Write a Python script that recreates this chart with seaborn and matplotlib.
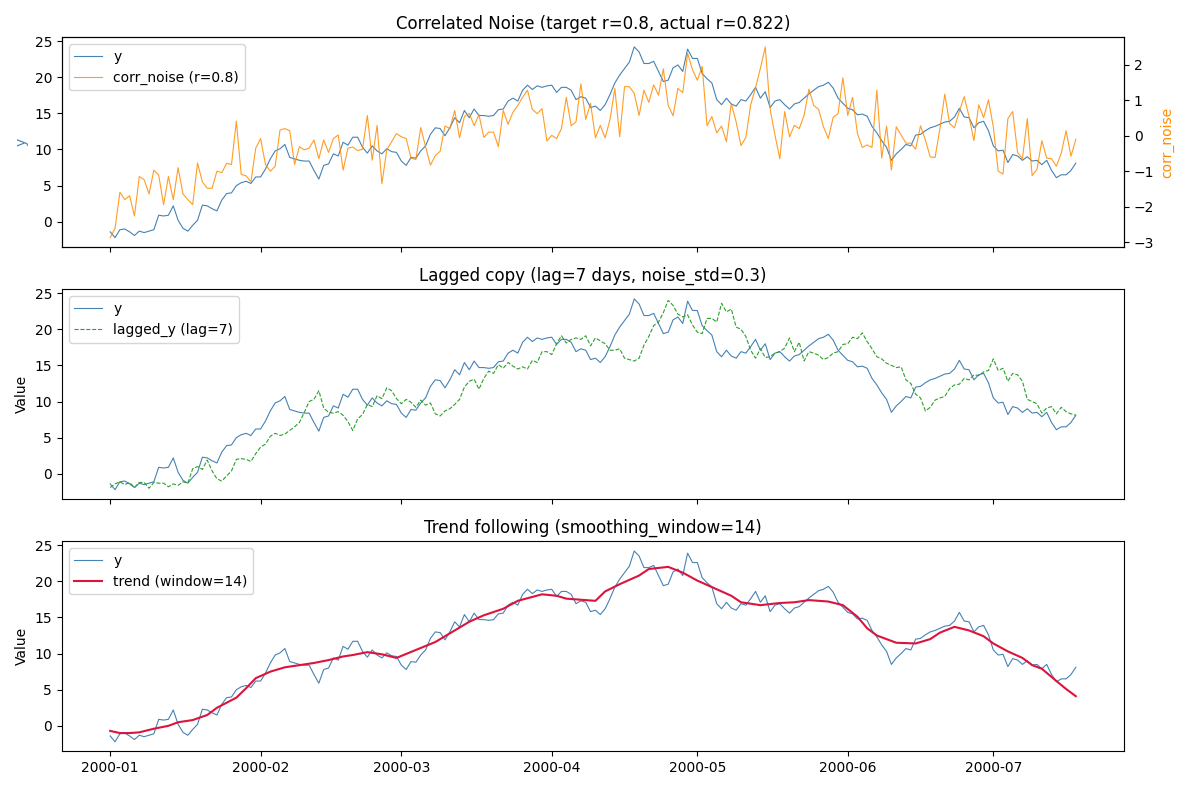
import matplotlib
matplotlib.use("Agg")
import matplotlib.pyplot as plt
import matplotlib.dates as mdates
import pandas as pd
import seaborn as sns

# valori (giornalieri, dal 2000-01-01)
y_values = [
    -1.4, -2.2, -1.1, -1.0, -1.4, -1.9, -1.3, -1.5, -1.3, -1.1,
    0.9, 0.8, 0.9, 2.2, 0.2, -0.9, -1.3, -0.5, 0.2, 2.3,
    2.2, 1.8, 1.5, 3.0, 3.9, 4.0, 5.0, 5.4, 5.6, 5.3,
    6.2, 6.2, 7.3, 8.7, 9.8, 10.1, 10.7, 8.9, 8.7, 8.5,
    8.4, 8.4, 7.1, 5.9, 7.8, 8.0, 9.4, 9.1, 11.0, 10.6,
    11.7, 11.7, 10.3, 9.5, 10.5, 9.8, 9.4, 10.1, 9.7, 9.6,
    8.4, 7.8, 8.9, 8.8, 9.8, 10.5, 12.1, 13.0, 12.9, 11.9,
    13.0, 14.4, 13.7, 15.4, 14.4, 15.6, 14.7, 14.7, 14.6, 14.7,
    15.5, 15.6, 16.7, 17.1, 16.7, 18.2, 18.9, 18.3, 18.8, 18.6,
    18.8, 18.9, 17.9, 18.6, 18.6, 18.2, 16.9, 17.3, 17.1, 15.8,
    16.0, 15.4, 16.2, 17.6, 19.2, 20.3, 21.2, 22.1, 24.2, 23.5,
    21.9, 21.9, 22.2, 20.8, 19.4, 19.6, 21.3, 21.7, 20.8, 23.9,
    22.6, 22.6, 20.5, 19.8, 19.2, 16.9, 16.2, 17.1, 16.3, 16.0,
    16.9, 16.7, 17.6, 18.6, 17.1, 18.0, 15.8, 16.7, 16.9, 16.2,
    15.6, 16.3, 16.5, 17.1, 17.7, 18.2, 18.7, 18.9, 19.3, 18.5,
    17.1, 16.4, 15.7, 15.5, 14.8, 14.9, 14.6, 13.2, 12.3, 11.2,
    10.3, 8.5, 9.4, 10.0, 10.7, 10.5, 12.0, 12.1, 12.6, 13.0,
    13.2, 13.5, 13.8, 13.9, 14.5, 15.7, 14.5, 14.4, 13.0, 13.7,
    13.9, 12.6, 10.5, 9.8, 9.9, 8.2, 9.3, 9.1, 8.5, 9.0,
    8.4, 8.5, 7.9, 8.5, 7.1, 6.1, 6.5, 6.5, 7.1, 8.1,
]

corr_noise_values = [
    -2.87, -2.61, -1.59, -1.80, -1.69, -2.26, -1.15, -1.24, -1.64, -0.97,
    -1.11, -1.94, -1.15, -1.80, -0.90, -1.64, -1.80, -1.94, -0.77, -1.30,
    -1.48, -1.48, -1.00, -1.04, -0.78, -0.81, 0.41, -1.09, -1.13, -1.30,
    -0.35, -0.08, -0.81, -1.00, -0.86, 0.16, 0.20, 0.14, -0.81, -0.31,
    -0.40, -0.35, -0.12, -0.65, -0.12, -0.47, -0.08, 0.02,
    -0.97, -0.35, -0.32, -0.42, -0.38, 0.57, -0.69, 0.29, -1.35, -0.40,
    -0.17, 0.06, -0.03, -0.08, -0.63, -0.67, 0.23, -0.31, -0.83, -0.56,
    -0.44, 0.27, 0.20, 0.71, -0.06, 0.54, 0.63, 0.28, 0.59, -0.05,
    0.10, 0.10, -0.31, 0.71, 0.32, 0.66, 0.85, 1.08, 1.28, 0.74,
    0.62, 0.76, -0.15, 0.01, -0.08, 0.20, 1.08, 0.28, 0.39, 1.46,
    0.46,
    0.91, -0.06, 0.29, -0.06, 0.45, 1.33, -0.03, 1.38, 1.38, 1.19,
    0.57, 1.28, 0.94, 1.43, 1.14, 1.88, 0.85, 0.56, 1.33, 1.21,
    2.32, 1.86, 1.56, 1.95, 0.28, 0.54, 0.08, 0.27, -0.17, 0.91,
    0.39, -0.28, -0.05, 0.87, 1.35, 1.90, 2.50, 0.75, 0.02, -0.65,
    0.68, -0.03, 0.29, 0.20, 0.57, 1.31, 0.85, 0.74, 0.25,
    -0.08, 0.52, 0.62, 1.63, 0.57, 1.08, 0.06, -0.33, -0.26, -0.33,
    1.28, -0.63, 0.27, -0.97, 0.25, 0.02, -0.21, -0.21, -0.38, 0.28,
    -0.12, -0.60, -0.61, 0.20, 1.17, 0.34, 0.22, 0.69, 1.10, 0.54,
    -0.14, 0.87, 0.51, 1.01, 0.25, -1.00, -1.08, 0.48, 0.68, -0.47,
    -0.65, 0.48, -1.12, -0.95, -0.14, -0.63, -0.65, -0.86, -0.49, 0.14,
    -0.58, -0.10,
]

lagged_values = [
    -1.9, -1.4, -1.1, -1.5, -1.2, -1.9, -1.2,
    -1.2, -2.0, -1.2, -1.3, -1.3, -1.8, -1.4, -1.6, -1.1, -1.3,
    0.7, 1.0, 0.6, 1.9, 0.4, -0.7, -1.0, -0.3, 0.4, 2.0,
    2.1, 2.0, 1.7, 2.8, 3.7, 4.1, 5.2, 5.6, 5.3, 5.5,
    6.0, 6.5, 7.1, 8.5, 10.0, 10.3, 11.5, 9.1, 8.5, 8.4,
    8.6, 8.1, 7.2, 6.0, 7.6, 8.2, 9.6, 9.3, 10.8, 10.4,
    11.9, 11.5, 10.4, 9.7, 10.3, 9.9, 9.2, 10.2, 9.5, 9.8,
    8.3, 8.0, 8.7, 9.0, 9.6, 10.3, 12.0, 12.8, 13.1, 11.7,
    13.2, 14.2, 13.9, 15.1, 14.6, 15.4, 14.9, 14.5, 14.8, 14.5,
    15.7, 15.4, 16.9, 16.9, 16.5, 18.0, 19.1, 18.1, 18.6, 18.8,
    18.6, 19.1, 17.7, 18.8, 18.4, 18.0, 17.1, 17.1, 17.3, 16.0,
    15.8, 15.6, 16.0, 17.8, 19.0, 20.5, 21.0, 22.3, 24.0, 23.3,
    22.1, 21.7, 22.0, 20.6, 19.6, 19.4, 21.5, 21.5, 21.0, 23.6,
    22.4, 22.8, 20.3, 20.0, 19.0, 17.1, 16.0, 17.3, 16.1, 16.2,
    16.7, 16.9, 17.4, 18.8, 16.9, 18.2, 15.6, 16.9, 16.7, 16.4,
    15.8, 16.1, 16.7, 16.9, 17.9, 18.0, 18.9, 18.7, 19.5, 18.3,
    17.3, 16.2, 15.9, 15.3, 15.0, 14.7, 14.8, 13.0, 12.5, 11.0,
    10.5, 8.7, 9.2, 10.2, 10.5, 10.7, 11.8, 12.3, 12.4, 13.2,
    13.0, 13.7, 13.6, 14.1, 14.3, 15.9, 14.3, 14.6, 12.8, 13.9,
    13.7, 12.8, 10.3, 10.0, 9.7, 8.4, 9.1, 9.3, 8.3, 9.2,
    8.6, 8.3, 8.1,
]

trend_days = [
    0, 2, 4, 6, 9, 12, 14, 17, 20, 22, 26, 28, 30, 33, 36, 39, 42, 45, 48, 50,
    53, 56, 59, 63, 67, 70, 74, 77, 81, 84, 89, 92, 94, 100, 102, 105, 109, 111,
    115, 118, 121, 124, 128, 130, 134, 138, 141, 144, 148, 151, 154, 156, 158,
    160, 162, 166, 169, 171, 174, 177, 180, 182, 185, 188, 190, 192, 195, 197, 199,
]
trend_values = [
    -0.7, -1.0, -1.0, -0.9, -0.4, 0.0, 0.5, 0.8, 1.5, 2.5, 3.9, 5.2, 6.6, 7.5,
    8.1, 8.4, 8.7, 9.1, 9.6, 9.8, 10.2, 9.9, 9.4, 10.5, 11.6, 12.8, 14.4, 15.3,
    16.2, 17.3, 18.2, 18.0, 17.6, 17.3, 18.6, 19.6, 20.8, 21.7, 22.0, 21.2,
    20.1, 19.2, 18.0, 17.1, 16.7, 17.0, 17.1, 17.4, 17.2, 16.7, 15.1, 13.5,
    12.5, 12.0, 11.5, 11.4, 12.0, 12.9, 13.7, 13.2, 12.4, 11.4, 10.3, 9.4,
    8.4, 7.9, 6.2, 5.1, 4.1,
]

dates = pd.date_range("2000-01-01", periods=len(y_values), freq="D")
df = pd.DataFrame({
    "date": dates,
    "y": y_values,
    "corr_noise": corr_noise_values,
    "lagged_y": lagged_values,
})
trend_df = pd.DataFrame({
    "date": dates[trend_days],
    "trend": trend_values,
})

fig, (ax1, ax2, ax3) = plt.subplots(3, 1, figsize=(11.89, 7.9), dpi=100, sharex=True)

# --- pannello 1: rumore correlato con asse gemello
sns.lineplot(data=df, x="date", y="y", ax=ax1, color="steelblue", lw=0.8, label="y", legend=False)
ax1b = ax1.twinx()
sns.lineplot(data=df, x="date", y="corr_noise", ax=ax1b, color="darkorange", lw=0.8,
             alpha=0.85, label="corr_noise (r=0.8)", legend=False)
ax1.set_ylabel("y", color="steelblue")
ax1b.set_ylabel("corr_noise", color="darkorange")
ax1.set_xlabel("")
ax1.set_title("Correlated Noise (target r=0.8, actual r=0.822)")
h1, l1 = ax1.get_legend_handles_labels()
h2, l2 = ax1b.get_legend_handles_labels()
ax1.legend(h1 + h2, l1 + l2, loc="upper left")

# --- pannello 2: copia ritardata
sns.lineplot(data=df, x="date", y="y", ax=ax2, color="steelblue", lw=0.8, label="y")
sns.lineplot(data=df, x="date", y="lagged_y", ax=ax2, color="tab:green", lw=0.8,
             linestyle="--", label="lagged_y (lag=7)")
ax2.set_ylabel("Value")
ax2.set_xlabel("")
ax2.set_title("Lagged copy (lag=7 days, noise_std=0.3)")
ax2.legend(loc="upper left")

# --- pannello 3: trend
sns.lineplot(data=df, x="date", y="y", ax=ax3, color="steelblue", lw=0.8, label="y")
sns.lineplot(data=trend_df, x="date", y="trend", ax=ax3, color="crimson", lw=1.5,
             label="trend (window=14)")
ax3.set_ylabel("Value")
ax3.set_xlabel("")
ax3.set_title("Trend following (smoothing_window=14)")
ax3.legend(loc="upper left")

for ax in (ax1, ax2, ax3):
    ax.set_yticks([0, 5, 10, 15, 20, 25])
ax3.xaxis.set_major_locator(mdates.MonthLocator())
ax3.xaxis.set_major_formatter(mdates.DateFormatter("%Y-%m"))

plt.tight_layout()
plt.savefig("out.png", dpi=100)
plt.close()
